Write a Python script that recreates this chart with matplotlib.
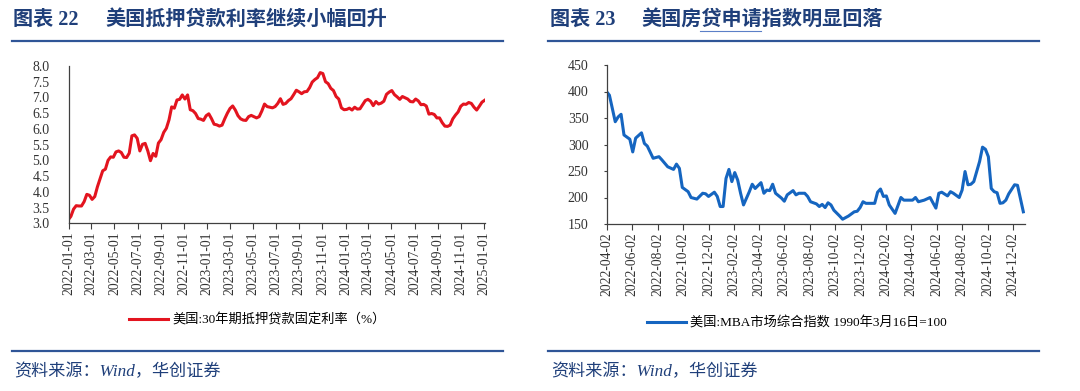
import pandas as pd
import matplotlib
matplotlib.use("Agg")
import matplotlib.pyplot as plt
from matplotlib.lines import Line2D

plt.rcParams['font.family'] = ['Liberation Serif', 'Noto Sans CJK SC', 'DejaVu Sans']
plt.rcParams['axes.unicode_minus'] = False

# ---- data: 美国30年期抵押贷款固定利率 (weekly) ----
rate_start = '2021-12-30'
rate_values = [
    3.11,
    3.22, 3.45, 3.56, 3.55, 3.55, 3.69, 3.92, 3.89, 3.76, 3.85, 4.16, 4.42, 4.67,
    4.72, 5.00, 5.11, 5.10, 5.27, 5.30, 5.25, 5.10, 5.09, 5.23, 5.78, 5.81, 5.70,
    5.30, 5.51, 5.54, 5.30, 4.99, 5.22, 5.13, 5.55, 5.66, 5.89, 6.02, 6.29, 6.70,
    6.66, 6.92, 6.94, 7.08, 6.95, 7.08, 6.61, 6.58, 6.49, 6.33, 6.31, 6.27, 6.42,
    6.48, 6.33, 6.15, 6.13, 6.09, 6.12, 6.32, 6.50, 6.65, 6.73, 6.60, 6.42, 6.32,
    6.28, 6.27, 6.39, 6.43, 6.39, 6.35, 6.39, 6.57, 6.79, 6.71, 6.69, 6.67, 6.71,
    6.81, 6.96, 6.78, 6.81, 6.90, 6.96, 7.09, 7.23, 7.18, 7.12, 7.18, 7.19, 7.31,
    7.49, 7.57, 7.63, 7.79, 7.76, 7.50, 7.44, 7.29, 7.22, 7.03, 6.95, 6.67, 6.61,
    6.62, 6.66, 6.60, 6.69, 6.63, 6.64, 6.77, 6.90, 6.94, 6.88, 6.74, 6.87, 6.79,
    6.82, 6.88, 7.10, 7.17, 7.22, 7.09, 7.02, 6.94, 7.03, 6.99, 6.95, 6.87, 6.86,
    6.95, 6.89, 6.77, 6.78, 6.73, 6.47, 6.49, 6.46, 6.35, 6.35, 6.20, 6.09, 6.08,
    6.12, 6.32, 6.44, 6.54, 6.72, 6.79, 6.78, 6.84, 6.81, 6.69, 6.60, 6.72, 6.85,
    6.91,
]
rate_dates = pd.date_range(rate_start, periods=len(rate_values), freq='7D')
rate_ticks = pd.date_range('2022-01-01', '2025-01-01', freq='2MS')

# ---- data: 美国MBA市场综合指数 ----
mba_dates = [
    '2022-04-01', '2022-04-08', '2022-04-22', '2022-04-29', '2022-05-06', '2022-05-13',
    '2022-05-27', '2022-06-03', '2022-06-10', '2022-06-24', '2022-07-01', '2022-07-08',
    '2022-07-22', '2022-08-05', '2022-08-12', '2022-08-26', '2022-09-09', '2022-09-16',
    '2022-09-23', '2022-09-30', '2022-10-14', '2022-10-21', '2022-11-04', '2022-11-18',
    '2022-11-25', '2022-12-02', '2022-12-16', '2022-12-23', '2022-12-30', '2023-01-06',
    '2023-01-13', '2023-01-20', '2023-01-27', '2023-02-03', '2023-02-10', '2023-02-17',
    '2023-02-24', '2023-03-10', '2023-03-17', '2023-03-24', '2023-04-07', '2023-04-14',
    '2023-04-21', '2023-04-28', '2023-05-05', '2023-05-12', '2023-05-26', '2023-06-02',
    '2023-06-09', '2023-06-23', '2023-06-30', '2023-07-07', '2023-07-21', '2023-07-28',
    '2023-08-04', '2023-08-18', '2023-08-25', '2023-09-01', '2023-09-08', '2023-09-15',
    '2023-09-22', '2023-09-29', '2023-10-13', '2023-10-20', '2023-11-03', '2023-11-17',
    '2023-11-24', '2023-12-01', '2023-12-08', '2023-12-15', '2023-12-29', '2024-01-05',
    '2024-01-12', '2024-01-19', '2024-01-26', '2024-02-02', '2024-02-09', '2024-02-23',
    '2024-03-08', '2024-03-15', '2024-03-22', '2024-04-05', '2024-04-12', '2024-04-19',
    '2024-05-03', '2024-05-17', '2024-05-31', '2024-06-07', '2024-06-14', '2024-06-28',
    '2024-07-05', '2024-07-12', '2024-07-26', '2024-08-02', '2024-08-09', '2024-08-16',
    '2024-08-23', '2024-08-30', '2024-09-13', '2024-09-20', '2024-09-27', '2024-10-04',
    '2024-10-11', '2024-10-18', '2024-10-25', '2024-11-01', '2024-11-08', '2024-11-15',
    '2024-11-22', '2024-12-06', '2024-12-13', '2024-12-27',
]
mba_values = [
    400, 393, 343, 352, 357, 318,
    310, 286, 312, 322, 302, 297,
    274, 277, 271, 258, 253, 263,
    255, 219, 211, 200, 197, 208,
    207, 202, 210, 202, 183, 183,
    236, 253, 230, 247, 233, 208,
    186, 211, 225, 217, 228, 208,
    214, 213, 225, 208, 199, 193,
    205, 213, 205, 208, 208, 202,
    192, 188, 183, 187, 181, 190,
    186, 176, 165, 159, 165, 173,
    174, 181, 192, 189, 189, 189,
    210, 216, 202, 203, 186, 170,
    200, 195, 195, 195, 200, 192,
    195, 200, 180, 208, 210, 203,
    211, 208, 200, 214, 249, 224,
    225, 230, 268, 295, 291, 277,
    217, 211, 209, 189, 190, 195,
    207, 224, 223, 173,
]
mba_ticks = pd.date_range('2022-04-02', periods=17, freq=pd.DateOffset(months=2))

navy = '#1f3f7a'
rule_blue = '#2f5597'
red = '#e3141f'
blue = '#1565c0'
W, H = 1080, 391

fig = plt.figure(figsize=(W / 100, H / 100), dpi=100)


def style_axes(ax):
    for s in ['top', 'right']:
        ax.spines[s].set_visible(False)
    for s in ['left', 'bottom']:
        ax.spines[s].set_color('#404040')
        ax.spines[s].set_linewidth(0.9)
    ax.tick_params(axis='x', direction='out', length=4, width=0.8, color='#404040',
                   labelsize=9.8, labelcolor='#333333', rotation=90, pad=2)
    ax.tick_params(axis='y', direction='out', length=2, width=0.8, color='#404040',
                   labelsize=10, labelcolor='#333333', pad=11)


# left chart
ax1 = fig.add_axes([69 / W, 1 - 223.3 / H, 416 / W, (223.3 - 66) / H])
ax1.plot(rate_dates, rate_values, color=red, lw=2.2, label='美国:30年期抵押贷款固定利率（%）')
ax1.set_xlim(pd.Timestamp('2022-01-01'), pd.Timestamp('2025-01-03'))
ax1.set_ylim(3.0, 8.0)
ax1.set_yticks([3.0 + 0.5 * i for i in range(11)])
ax1.set_yticklabels([f'{3.0 + 0.5 * i:.1f}' for i in range(11)])
ax1.set_xticks(rate_ticks)
ax1.set_xticklabels([d.strftime('%Y-%m-%d') for d in rate_ticks])
style_axes(ax1)
ax1.tick_params(axis='y', length=0, pad=14)

# right chart
ax2 = fig.add_axes([606.5 / W, 1 - 224 / H, 418.5 / W, (224 - 65) / H])
ax2.plot(pd.to_datetime(mba_dates), mba_values, color=blue, lw=2.2,
         label='美国:MBA市场综合指数 1990年3月16日=100')
ax2.set_xlim(pd.Timestamp('2022-04-01'), pd.Timestamp('2024-12-31'))
ax2.set_ylim(150, 450)
ax2.set_yticks(range(150, 451, 50))
ax2.set_xticks(mba_ticks)
ax2.set_xticklabels([d.strftime('%Y-%m-%d') for d in mba_ticks])
style_axes(ax2)

# legends
fig.legend(handles=ax1.get_lines(), loc='center', bbox_to_anchor=(257 / W, 1 - 320 / H),
           frameon=False, fontsize=9.5, handlelength=3.0, handletextpad=0.3)
fig.legend(handles=ax2.get_lines(), loc='center', bbox_to_anchor=(797 / W, 1 - 323 / H),
           frameon=False, fontsize=9.5, handlelength=3.0, handletextpad=0.3)

# titles, rules, sources
fig.text(13 / W, 1 - 20 / H, '图表 22', color=navy,
         fontsize=14.5, fontweight='bold', va='center', ha='left')
fig.text(105 / W, 1 - 20 / H, '美国抵押贷款利率继续小幅回升', color=navy,
         fontsize=14.5, fontweight='bold', va='center', ha='left')
fig.text(550 / W, 1 - 20 / H, '图表 23', color=navy,
         fontsize=14.5, fontweight='bold', va='center', ha='left')
fig.text(641 / W, 1 - 20 / H, '美国房贷申请指数明显回落', color=navy,
         fontsize=14.5, fontweight='bold', va='center', ha='left')
# underline under 贷申请 as in the source document
fig.add_artist(Line2D([700 / W, 761 / W], [1 - 31 / H] * 2, color='#5b7fc7', lw=0.8))
for x0, x1 in [(12, 503), (548, 1039)]:
    for y in [40.5, 351]:
        fig.add_artist(Line2D([x0 / W, x1 / W], [1 - y / H] * 2, color=rule_blue, lw=1.6))
for x in [14, 551]:
    fig.text(x / W, 1 - 372 / H, '资料来源：Wind，华创证券', color=navy, fontsize=12.3,
             style='italic', va='center', ha='left')

fig.savefig('out.png', dpi=100)
